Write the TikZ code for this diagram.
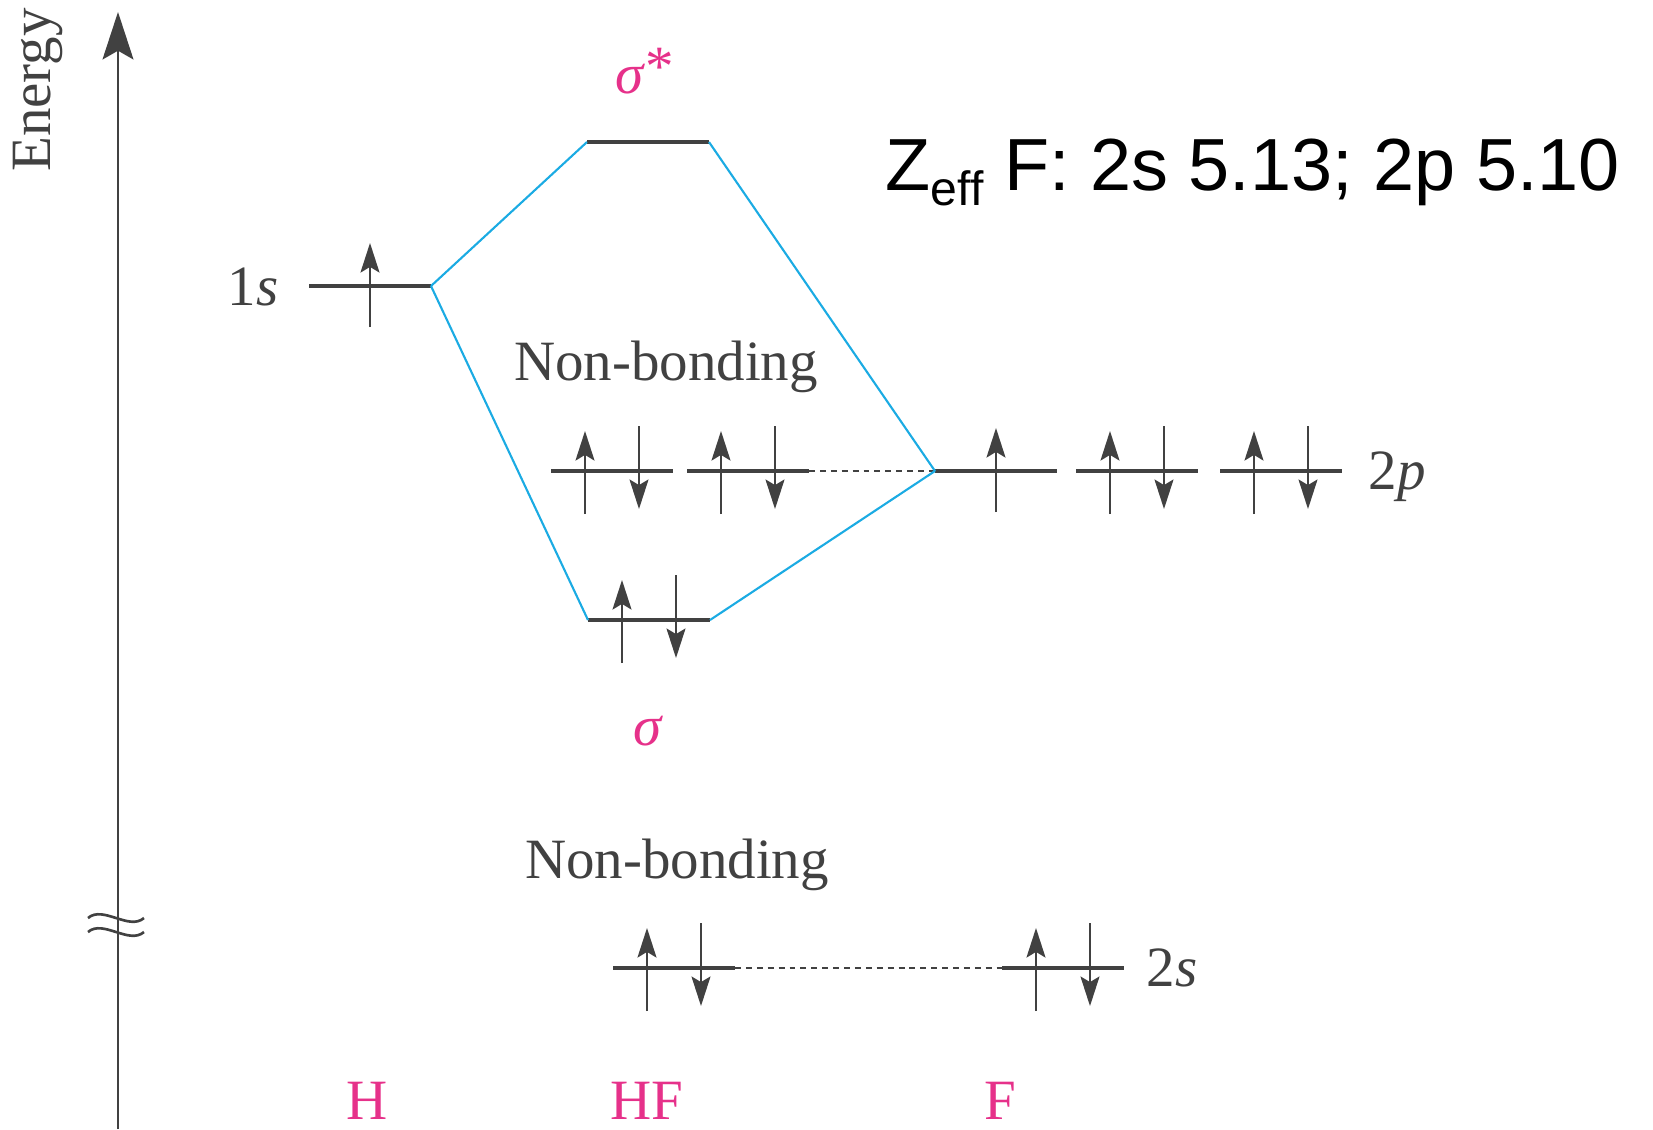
\documentclass[tikz,border=0pt]{standalone}
\usepackage{fontspec}
\setmainfont{Liberation Serif}
\newfontfamily\sansf{Liberation Sans}
\usetikzlibrary{arrows.meta}
\definecolor{ink}{HTML}{414141}
\definecolor{pinkc}{HTML}{E6318A}
\definecolor{bluec}{HTML}{1BABE3}
\newcommand{\serifsz}{\fontsize{16.2pt}{19pt}\selectfont}
\newcommand{\mylevel}[3]{%
  \coordinate (#1-l) at (#2,#3);
  \coordinate (#1-r) at ({#2+122},#3);
  \draw[lvl] (#1-l) -- (#1-r);}
\newcommand{\mypair}[3]{%
  \mylevel{#1}{#2}{#3}
  \draw[spin] ({#2+34},{#3+43}) -- ({#2+34},{#3-40});
  \draw[spin] ({#2+88},{#3-45}) -- ({#2+88},{#3+38});}
\newcommand{\mysingle}[3]{%
  \mylevel{#1}{#2}{#3}
  \draw[spin] ({#2+61},{#3+41}) -- ({#2+61},{#3-43});}
\begin{document}
\begin{tikzpicture}[x=0.01cm,y=-0.01cm,
  lvl/.style={draw=ink,line width=0.94pt},
  spin/.style={draw=ink,line width=0.6pt,-{Stealth[length=8.4pt,width=5.4pt,inset=1.6pt]}},
  conn/.style={draw=bluec,line width=0.6pt},
  dsh/.style={draw=ink,line width=0.45pt,dash pattern=on 1.7pt off 1.4pt},
  axisln/.style={draw=ink,line width=0.6pt,-{Stealth[length=13.5pt,width=8.8pt,inset=2.5pt]}},
  lab/.style={text=ink,font=\serifsz,inner sep=0pt},
  plab/.style={text=pinkc,font=\serifsz,inner sep=0pt}]
\useasboundingbox (0,0) rectangle (1653,1129);
% axis
\coordinate (axb) at (118,1129);
\coordinate (axt) at (118,12);
\draw[axisln] (axb) -- (axt);
\node[lab,rotate=90] (energy) at (38,90) {Energy};
% break marks
\draw[ink,line width=0.75pt] (88,918) .. controls (103,905) and (129,931) .. (144,918);
\draw[ink,line width=0.75pt] (88,932) .. controls (103,919) and (129,945) .. (144,932);
% H 1s
\mysingle{h1s}{309}{286}
\node[lab,anchor=base east] (l1s) at (279,305) {1\textit{s}};
% sigma*
\mylevel{sigs}{587}{142}
\node[plab,anchor=base] (lsigs) at (645,93) {\textit{σ}\raisebox{2pt}{*}};
% sigma
\mypair{sig}{588}{620}
\node[plab,anchor=base] (lsig) at (648,745) {\textit{σ}};
% nonbonding 2p (HF)
\mypair{nb1}{551}{471}
\mypair{nb2}{687}{471}
\node[lab,anchor=base] (nbu) at (666,380) {Non-bonding};
% F 2p
\mysingle{f2pa}{935}{471}
\mypair{f2pb}{1076}{471}
\mypair{f2pc}{1220}{471}
\node[lab,anchor=base west] (l2p) at (1368,489) {2\textit{p}};
\draw[dsh] (nb2-r) -- (f2pa-l);
% connectors
\draw[conn] (h1s-r) -- (sigs-l);
\draw[conn] (sigs-r) -- (f2pa-l);
\draw[conn] (h1s-r) -- (sig-l);
\draw[conn] (sig-r) -- (f2pa-l);
% 2s
\mypair{hf2s}{613}{968}
\mypair{f2s}{1002}{968}
\draw[dsh] (hf2s-r) -- (f2s-l);
\node[lab,anchor=base west] (l2s) at (1146,986) {2\textit{s}};
\node[lab,anchor=base] (nbl) at (677,878) {Non-bonding};
% atom labels
\node[plab,anchor=base] (lH) at (367,1119) {H};
\node[plab,anchor=base] (lHF) at (647,1119) {HF};
\node[plab,anchor=base] (lF) at (1000,1119) {F};
% Zeff
\node[anchor=base west,inner sep=0pt,font=\sansf\fontsize{21pt}{25pt}\selectfont] (zeff) at (885,190)
  {Z\raisebox{-4.3pt}{\fontsize{13.7pt}{15pt}\selectfont eff} F: 2s 5.13; 2p 5.10};
\end{tikzpicture}
\end{document}
